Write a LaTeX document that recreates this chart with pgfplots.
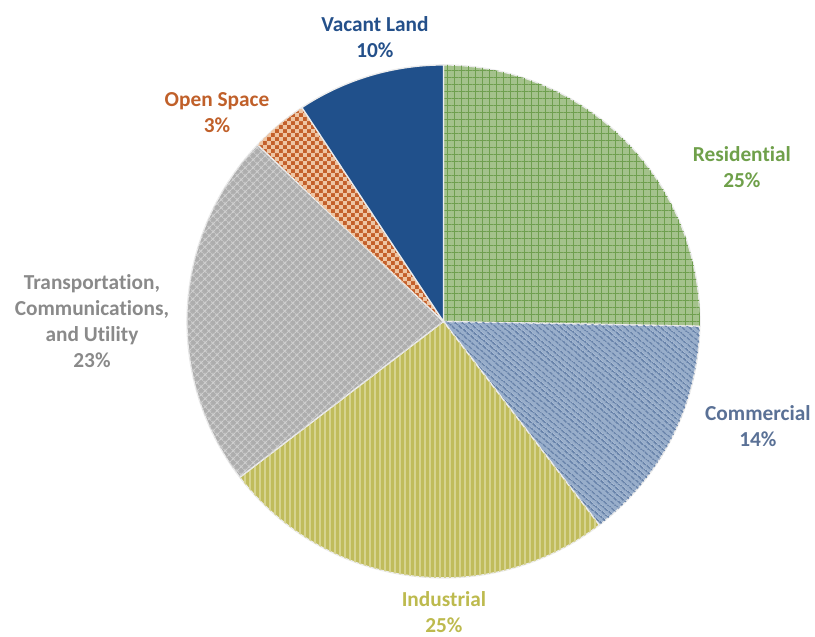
\documentclass[border=0pt]{standalone}
\usepackage{pgfplots}
\pgfplotsset{compat=1.18}
\usepackage{pgfplotstable}
\usepackage{fontspec}
\setmainfont{Carlito}[Ligatures=NoCommon]
\usetikzlibrary{patterns,patterns.meta}

\definecolor{resbase}{HTML}{A4C28C}
\definecolor{resline}{HTML}{6F9F4F}
\definecolor{reslab}{HTML}{6FA04A}
\definecolor{combase}{HTML}{98AECB}
\definecolor{comline}{HTML}{6883AA}
\definecolor{comlab}{HTML}{5A7196}
\definecolor{indbase}{HTML}{C0BC5C}
\definecolor{indline}{HTML}{D6D38F}
\definecolor{indlab}{HTML}{BDBA4E}
\definecolor{tcubase}{HTML}{ADADAD}
\definecolor{tculine}{HTML}{D0D0D0}
\definecolor{tculab}{HTML}{8A8A8A}
\definecolor{opsbase}{HTML}{C4602B}
\definecolor{opsline}{HTML}{EEC5A3}
\definecolor{opslab}{HTML}{C0602A}
\definecolor{vacbase}{HTML}{20508B}
\definecolor{vaclab}{HTML}{24508A}

\pgfdeclarepatternformonly{mychecker}{\pgfpointorigin}{\pgfqpoint{6pt}{6pt}}{\pgfqpoint{6pt}{6pt}}{%
  \pgfpathrectangle{\pgfpointorigin}{\pgfqpoint{3pt}{3pt}}%
  \pgfpathrectangle{\pgfqpoint{3pt}{3pt}}{\pgfqpoint{3pt}{3pt}}%
  \pgfusepath{fill}}

\tikzset{
  wedge/.style={draw=white!85!gray, line width=1pt},
  slice res/.style={wedge, fill=resbase, postaction={pattern={Hatch[angle=0,distance=5.25pt,line width=0.7pt]}, pattern color=resline}},
  slice com/.style={wedge, fill=combase, postaction={pattern={Lines[angle=-40,distance=4pt,line width=1.6pt]}, pattern color=comline}},
  slice ind/.style={wedge, fill=indbase, postaction={pattern={Lines[angle=90,distance=3.75pt,line width=1.1pt]}, pattern color=indline}},
  slice tcu/.style={wedge, fill=tcubase, postaction={pattern={Hatch[angle=45,distance=4pt,line width=0.9pt]}, pattern color=tculine}},
  slice ops/.style={wedge, fill=opsbase, postaction={pattern=mychecker, pattern color=opsline}},
  slice vac/.style={wedge, fill=vacbase},
  lab/.style={font=\bfseries\fontsize{16}{19.5}\selectfont, align=center},
}

% share of land use, percent, clockwise from 12 o'clock
\pgfplotstableread{
slice value
res 25.3
com 14.3
ind 25.0
tcu 22.5
ops 3.6
vac 9.3
}\landuse

\begin{document}
\begin{tikzpicture}
\begin{axis}[
    x=0.75pt, y=0.75pt,
    xmin=0, xmax=815, ymin=0, ymax=633,
    hide axis, clip=false,
  ]
  \path (axis cs:0,0) rectangle (axis cs:815,633);
  \pgfplotsextra{
    \gdef\a{90}
    \pgfplotsforeachungrouped \i in {0,...,5}{
      \pgfplotstablegetelem{\i}{value}\of\landuse \let\v\pgfplotsretval
      \pgfplotstablegetelem{\i}{slice}\of\landuse \let\s\pgfplotsretval
      \pgfmathsetmacro\b{\a-3.6*\v}
      \edef\dofill{\noexpand\fill[slice \s]}
      \dofill (axis cs:443.5,311.5) -- ++(\a:192.4pt) arc[start angle=\a, end angle=\b, radius=192.4pt] -- cycle;
      \global\let\a\b
    }
  }
  \node[lab, text=vaclab] at (axis cs:375,596) {Vacant Land\\10\%};
  \node[lab, text=opslab] at (axis cs:217,520) {Open Space\\3\%};
  \node[lab, text=reslab] at (axis cs:742,466) {Residential\\25\%};
  \node[lab, text=comlab] at (axis cs:758,207) {Commercial\\14\%};
  \node[lab, text=indlab] at (axis cs:444,21) {Industrial\\25\%};
  \node[lab, text=tculab] at (axis cs:92,312) {Transportation,\\Communications,\\and Utility\\23\%};
\end{axis}
\end{tikzpicture}
\end{document}
